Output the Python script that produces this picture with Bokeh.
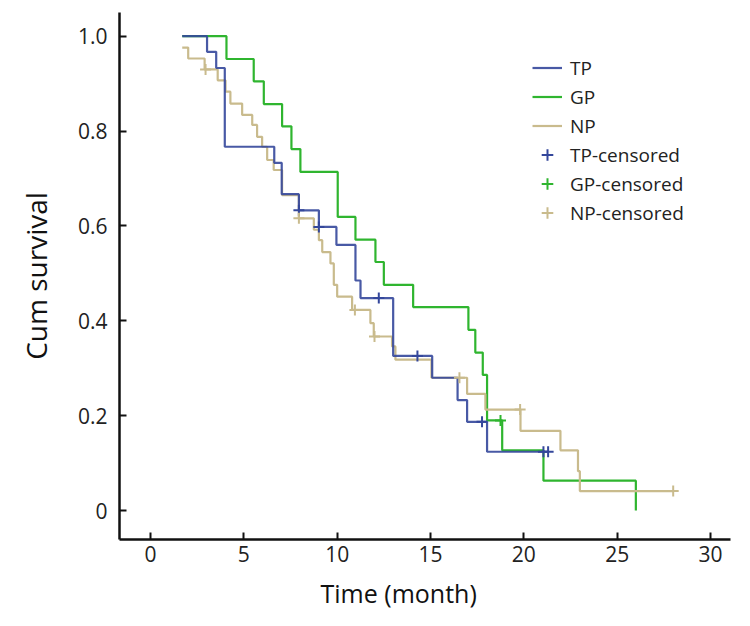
from bokeh.plotting import figure
from bokeh.models import Legend, LegendItem, Range1d, FixedTicker, Title
from bokeh.embed import file_html
from bokeh.resources import INLINE

# ---- data ----
tp_t = [1.7, 3.03, 3.52, 3.98, 6.63, 7.03, 7.95, 9.02, 9.96, 10.98, 11.25, 13.0, 15.09, 16.45, 16.96, 18.03, 21.3]
tp_s = [1.0, 0.967, 0.933, 0.767, 0.733, 0.667, 0.633, 0.598, 0.560, 0.485, 0.448, 0.326, 0.280, 0.233, 0.187, 0.124, 0.124]
tp_cens_t = [7.95, 9.02, 12.23, 14.3, 17.76, 21.05, 21.3]
tp_cens_s = [0.633, 0.598, 0.448, 0.326, 0.187, 0.124, 0.124]

gp_t = [1.7, 4.07, 5.53, 6.07, 7.05, 7.55, 8.03, 10.03, 10.98, 12.05, 12.5, 14.07, 17.03, 17.4, 17.8, 18.03, 18.84, 21.05, 26.0]
gp_s = [1.0, 0.952, 0.905, 0.857, 0.810, 0.762, 0.714, 0.619, 0.571, 0.524, 0.476, 0.429, 0.381, 0.333, 0.286, 0.190, 0.127, 0.063, 0.0]
gp_cens_t = [18.75]
gp_cens_s = [0.190]

np_t = [1.7, 2.02, 2.9, 3.6, 4.02, 4.28, 4.91, 5.45, 5.71, 5.98, 6.25, 6.6, 7.05, 7.95, 8.75, 9.02, 9.2,
        9.64, 9.82, 10.0, 10.8, 11.78, 11.96, 12.94, 13.12, 15.05, 16.96, 17.94, 19.82, 21.96, 22.9, 23.0, 28.0]
np_s = [0.976, 0.953, 0.930, 0.907, 0.883, 0.858, 0.834, 0.813, 0.788, 0.767, 0.739, 0.718, 0.665, 0.616, 0.592,
        0.570, 0.545, 0.521, 0.476, 0.451, 0.423, 0.395, 0.367, 0.346, 0.318, 0.280, 0.246, 0.213, 0.168, 0.127,
        0.083, 0.041, 0.041]
np_cens_t = [2.95, 7.95, 10.95, 12.0, 16.55, 19.8, 28.0]
np_cens_s = [0.930, 0.616, 0.423, 0.367, 0.280, 0.213, 0.041]

x_ticks = [0, 5, 10, 15, 20, 25, 30]
y_ticks = [0, 0.2, 0.4, 0.6, 0.8, 1.0]
y_tick_labels = ["0", "0.2", "0.4", "0.6", "0.8", "1.0"]

BLUE = "#34479b"
GREEN = "#2fb52f"
TAN = "#c9bb8d"
FONT = "Open Sans"

p = figure(width=742, height=618, output_backend="svg", toolbar_location=None,
           x_range=Range1d(-1.66, 31.07), y_range=Range1d(-0.061, 1.05),
           min_border_left=119, min_border_right=12, min_border_top=12, min_border_bottom=78)
p.outline_line_color = None
p.xgrid.visible = False
p.ygrid.visible = False

g_line = p.step(gp_t, gp_s, mode="after", line_color=GREEN, line_width=2.2)
n_line = p.step(np_t, np_s, mode="after", line_color=TAN, line_width=2.2)
t_line = p.step(tp_t, tp_s, mode="after", line_color=BLUE, line_width=2.2, line_alpha=0.9)

t_c = p.scatter(tp_cens_t, tp_cens_s, marker="cross", size=11, line_color=BLUE, line_width=2)
g_c = p.scatter(gp_cens_t, gp_cens_s, marker="cross", size=11, line_color=GREEN, line_width=2)
n_c = p.scatter(np_cens_t, np_cens_s, marker="cross", size=11, line_color=TAN, line_width=2)

for ax in (p.xaxis[0], p.yaxis[0]):
    ax.axis_line_width = 2.5
    ax.axis_line_color = "#111111"
    ax.major_tick_in = 7
    ax.major_tick_out = 0
    ax.major_tick_line_width = 2
    ax.major_tick_line_color = "#111111"
    ax.minor_tick_line_color = None
    ax.major_label_text_font = FONT
    ax.major_label_text_font_size = "21px"
    ax.major_label_text_color = "#222222"
    ax.axis_label_text_font = FONT
    ax.axis_label_text_font_style = "normal"
    ax.axis_label_text_color = "#111111"

p.xaxis.ticker = FixedTicker(ticks=x_ticks)
p.yaxis.ticker = FixedTicker(ticks=y_ticks)
p.yaxis.major_label_overrides = {v: s for v, s in zip(y_ticks, y_tick_labels)}
p.yaxis.axis_label = "Cum survival"
p.yaxis.axis_label_text_font_size = "28px"
p.xaxis.major_label_standoff = 6
p.yaxis.major_label_standoff = 12
p.yaxis.axis_label_standoff = 20

x_title = Title(text="Time (month)", align="left", offset=201, standoff=18,
                text_font=FONT, text_font_size="25px", text_font_style="normal",
                text_color="#111111")
p.add_layout(x_title, "below")

legend = Legend(items=[
    LegendItem(label="TP", renderers=[t_line]),
    LegendItem(label="GP", renderers=[g_line]),
    LegendItem(label="NP", renderers=[n_line]),
    LegendItem(label="TP-censored", renderers=[t_c]),
    LegendItem(label="GP-censored", renderers=[g_c]),
    LegendItem(label="NP-censored", renderers=[n_c]),
], location=(413, 312), padding=0, margin=0, spacing=0,
   glyph_width=30, glyph_height=29, label_height=29, label_standoff=8,
   label_text_font=FONT, label_text_font_size="19px", label_text_color="#222222",
   border_line_color=None, background_fill_alpha=0)
p.add_layout(legend)

open("out.html", "w").write(file_html(p, INLINE))
